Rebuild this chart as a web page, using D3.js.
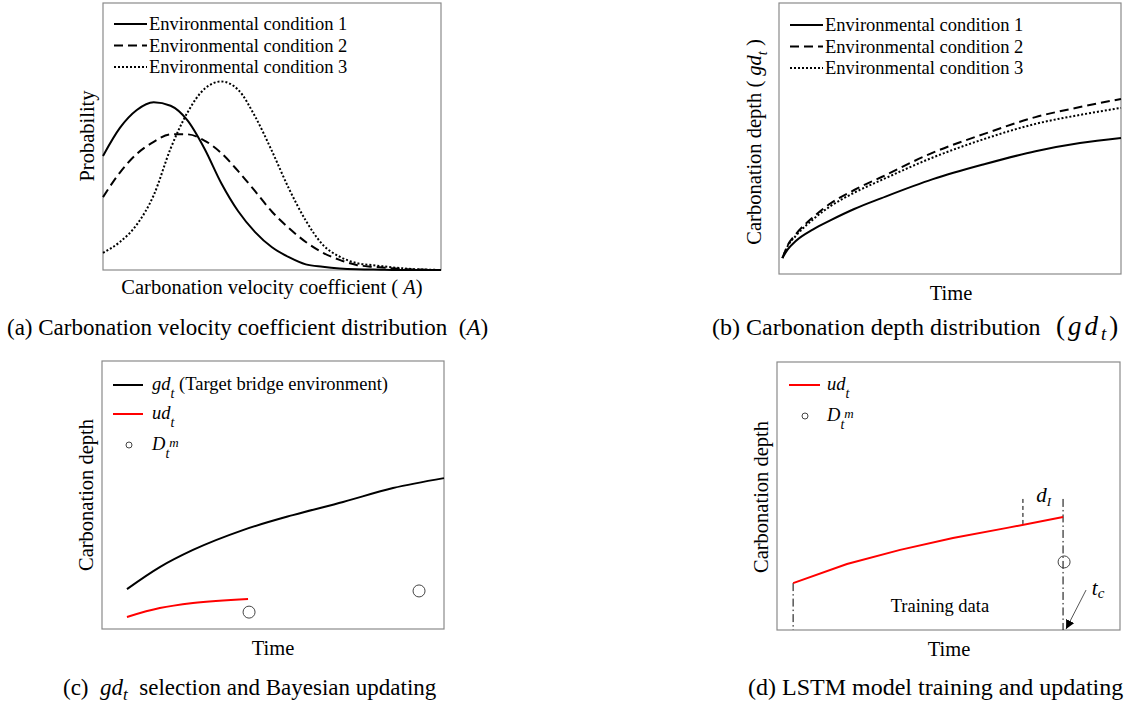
<!DOCTYPE html>
<html>
<head>
<meta charset="utf-8">
<script src="https://cdn.jsdelivr.net/npm/d3@7/dist/d3.min.js"></script>
<style>
  body { margin: 0; background: #fff; }
  svg  { font-family: "Liberation Serif", "Times New Roman", serif; }
  text { white-space: pre; }
</style>
</head>
<body>
<svg id="fig" width="1137" height="704"></svg>
<script>
// ── Data (relative units 0-100 per panel) ──────────────────────────────────────

// (a) distribution of carbonation velocity coefficient
var aGrid  = [0, 5, 10, 15, 20, 25, 30, 35, 40, 45, 50, 55, 60, 65, 70, 75, 80, 90, 100];
var aCond1 = [42.7, 53.2, 59.9, 62.8, 61.5, 56, 45.5, 32.5, 22, 14.2, 8.5, 4.8, 2.1, 1.2, 0.6, 0.3, 0.2, 0, 0];
var aCond2 = [27.3, 36.5, 43.5, 48, 50.8, 50.8, 48.5, 43.8, 37, 29.5, 21.8, 15.7, 10.5, 6.5, 3.8, 1.9, 1.2, 0.3, 0];
var aCond3 = [6.4, 10.5, 17, 28, 45.5, 59, 67.8, 70.6, 67.5, 57.5, 44.5, 30.5, 18.5, 9.5, 5, 2.6, 1.8, 0.5, 0];

// (b) carbonation depth over time
var bTime  = [1, 2.5, 5, 10, 15, 22, 30, 45, 60, 75, 88, 100];
var bCond1 = [5.9, 9, 12.3, 16.5, 19.8, 24, 28, 35, 40.5, 45.3, 48.3, 50.2];
var bCond2 = [5.9, 10.5, 14.8, 21, 26, 31, 35.8, 44.8, 51.7, 57.9, 61.6, 64.6];
var bCond3 = [5.9, 10.2, 14.2, 20.2, 25, 30, 34.7, 43, 49.8, 55.4, 58.7, 61.3];

var condLabels = ['Environmental condition 1', 'Environmental condition 2', 'Environmental condition 3'];

// (c) gd_t selection and Bayesian updating
var cTime    = [7.3, 16.9, 26.6, 41.2, 55.8, 70.5, 85.1, 100];
var cGd      = [14.9, 23.1, 29.5, 36.9, 42.5, 47.4, 52.6, 56.3];
var cUdTime  = [7.3, 16.9, 26.6, 42.7];
var cUd      = [4.5, 7.8, 9.7, 11.2];
var cObsTime = [43, 92.7];
var cObs     = [6.3, 14.2];

// (d) LSTM training
var dTime    = [4.7, 20.4, 35.9, 51.3, 67.1, 83.4];
var dUd      = [17.5, 24.6, 29.9, 34.3, 38.1, 42.2];
var dObsTime = [83.7];
var dObs     = [25.4];
var dLagTime = 71.7;   // start of d_I window
var dMarkTop = 48.9;   // top of the marker lines

// ── Helpers ────────────────────────────────────────────────────────────────────

var svg = d3.select('#fig');

var dashes = ['none', '9 5', '2 2'];

function makePanel(box) {
    var g = svg.append('g');
    var x = d3.scaleLinear().domain([0, 100]).range([box.x0, box.x1]);
    var y = d3.scaleLinear().domain([0, 100]).range([box.y1, box.y0]);
    g.append('rect')
        .attr('x', box.x0).attr('y', box.y0)
        .attr('width', box.x1 - box.x0).attr('height', box.y1 - box.y0)
        .attr('fill', 'none').attr('stroke', '#8a8a8a').attr('stroke-width', 1.2);
    return { g: g, x: x, y: y };
}

// parts: [{t, i (italic), shift (px down from baseline), size}]
function rich(sel, parts) {
    var cur = 0;
    parts.forEach(function (p) {
        var sh = p.shift || 0;
        var ts = sel.append('tspan').attr('dy', sh - cur).text(p.t);
        cur = sh;
        if (p.i) ts.attr('font-style', 'italic');
        if (p.size) ts.attr('font-size', p.size);
    });
    return sel;
}

function addText(g, x, y, parts, size, anchor, rotate) {
    var t = g.append('text')
        .attr('font-size', size)
        .attr('text-anchor', anchor || 'start')
        .attr('fill', '#000');
    if (rotate) {
        t.attr('transform', 'translate(' + x + ',' + y + ') rotate(-90)');
    } else {
        t.attr('x', x).attr('y', y);
    }
    return rich(t, parts);
}

function curvePath(p, xs, ys, curve) {
    var pts = xs.map(function (v, i) { return [v, ys[i]]; });
    return d3.line()
        .x(function (d) { return p.x(d[0]); })
        .y(function (d) { return p.y(d[1]); })
        .curve(curve || d3.curveLinear)(pts);
}

// ── (a) ────────────────────────────────────────────────────────────────────────
var pa = makePanel({ x0: 103, x1: 441, y0: 3, y1: 270 });
[aCond1, aCond2, aCond3].forEach(function (ys, i) {
    pa.g.append('path')
        .attr('d', curvePath(pa, aGrid, ys, d3.curveMonotoneX))
        .attr('fill', 'none').attr('stroke', '#000').attr('stroke-width', 2)
        .attr('stroke-dasharray', dashes[i]);
});
condLabels.forEach(function (lab, i) {
    var by = 30 + i * 21.5;
    pa.g.append('line')
        .attr('x1', 114).attr('x2', 147).attr('y1', by - 6).attr('y2', by - 6)
        .attr('stroke', '#000').attr('stroke-width', 2).attr('stroke-dasharray', dashes[i]);
    addText(pa.g, 149, by, [{ t: lab }], 18.5);
});
addText(pa.g, 272, 294, [{ t: 'Carbonation velocity coefficient ( ' }, { t: 'A', i: true }, { t: ')' }], 20.5, 'middle');
addText(pa.g, 94, 136, [{ t: 'Probability' }], 20.5, 'middle', true);

// ── (b) ────────────────────────────────────────────────────────────────────────
var pb = makePanel({ x0: 779, x1: 1121, y0: 3, y1: 274 });
[bCond1, bCond2, bCond3].forEach(function (ys, i) {
    pb.g.append('path')
        .attr('d', curvePath(pb, bTime, ys, d3.curveMonotoneX))
        .attr('fill', 'none').attr('stroke', '#000').attr('stroke-width', 2)
        .attr('stroke-dasharray', dashes[i]);
});
condLabels.forEach(function (lab, i) {
    var by = 31 + i * 21.5;
    pb.g.append('line')
        .attr('x1', 790).attr('x2', 823).attr('y1', by - 6).attr('y2', by - 6)
        .attr('stroke', '#000').attr('stroke-width', 2).attr('stroke-dasharray', dashes[i]);
    addText(pb.g, 825, by, [{ t: lab }], 18.5);
});
addText(pb.g, 951, 300, [{ t: 'Time' }], 20.5, 'middle');
addText(pb.g, 761, 142, [{ t: 'Carbonation depth ( ' }, { t: 'gd', i: true },
    { t: 't', i: true, shift: 6, size: 14 }, { t: ' )', shift: 0 }], 20.5, 'middle', true);

// ── (c) ────────────────────────────────────────────────────────────────────────
var pc = makePanel({ x0: 102, x1: 444, y0: 361, y1: 629 });
pc.g.append('path')
    .attr('d', curvePath(pc, cTime, cGd, d3.curveMonotoneX))
    .attr('fill', 'none').attr('stroke', '#000').attr('stroke-width', 2);
pc.g.append('path')
    .attr('d', curvePath(pc, cUdTime, cUd, d3.curveMonotoneX))
    .attr('fill', 'none').attr('stroke', '#ff0000').attr('stroke-width', 2);
pc.g.selectAll('circle.obs').data(cObsTime).enter().append('circle')
    .attr('class', 'obs')
    .attr('cx', function (d) { return pc.x(d); })
    .attr('cy', function (d, i) { return pc.y(cObs[i]); })
    .attr('r', 6).attr('fill', 'none').attr('stroke', '#444').attr('stroke-width', 1);

pc.g.append('line').attr('x1', 113).attr('x2', 143).attr('y1', 385).attr('y2', 385)
    .attr('stroke', '#000').attr('stroke-width', 2);
addText(pc.g, 152, 390, [{ t: 'gd', i: true }, { t: 't', i: true, shift: 8, size: 14 },
    { t: ' (Target bridge environment)', shift: 0 }], 18.5);
pc.g.append('line').attr('x1', 113).attr('x2', 143).attr('y1', 414).attr('y2', 414)
    .attr('stroke', '#ff0000').attr('stroke-width', 2);
addText(pc.g, 152, 419, [{ t: 'ud', i: true }, { t: 't', i: true, shift: 8, size: 14 }], 18.5);
pc.g.append('circle').attr('cx', 129).attr('cy', 445).attr('r', 3)
    .attr('fill', 'none').attr('stroke', '#444').attr('stroke-width', 1);
addText(pc.g, 152, 450, [{ t: 'D', i: true }, { t: 't', i: true, shift: 8, size: 14 },
    { t: 'm', i: true, shift: -3, size: 13 }], 18.5);
addText(pc.g, 273, 655, [{ t: 'Time' }], 20.5, 'middle');
addText(pc.g, 93, 495, [{ t: 'Carbonation depth' }], 20.5, 'middle', true);

// ── (d) ────────────────────────────────────────────────────────────────────────
var pd = makePanel({ x0: 777, x1: 1120, y0: 362, y1: 630 });
var dLast = dTime.length - 1;
var dashDot = '8 3 1.5 3';
pd.g.append('line')
    .attr('x1', pd.x(dTime[0])).attr('x2', pd.x(dTime[0]))
    .attr('y1', pd.y(dUd[0])).attr('y2', pd.y(0))
    .attr('stroke', '#000').attr('stroke-width', 1).attr('stroke-dasharray', dashDot);
pd.g.append('line')
    .attr('x1', pd.x(dTime[dLast])).attr('x2', pd.x(dTime[dLast]))
    .attr('y1', pd.y(dMarkTop)).attr('y2', pd.y(0))
    .attr('stroke', '#000').attr('stroke-width', 1).attr('stroke-dasharray', dashDot);
var lagY = d3.scaleLinear().domain(dTime).range(dUd)(dLagTime);
pd.g.append('line')
    .attr('x1', pd.x(dLagTime)).attr('x2', pd.x(dLagTime))
    .attr('y1', pd.y(dMarkTop)).attr('y2', pd.y(lagY))
    .attr('stroke', '#000').attr('stroke-width', 1).attr('stroke-dasharray', '4 3');
pd.g.append('path')
    .attr('d', curvePath(pd, dTime, dUd))
    .attr('fill', 'none').attr('stroke', '#ff0000').attr('stroke-width', 2);
pd.g.selectAll('circle.obs').data(dObsTime).enter().append('circle')
    .attr('class', 'obs')
    .attr('cx', function (d) { return pd.x(d); })
    .attr('cy', function (d, i) { return pd.y(dObs[i]); })
    .attr('r', 6).attr('fill', 'none').attr('stroke', '#444').attr('stroke-width', 1);

addText(pd.g, pd.x(47.5), pd.y(6.7), [{ t: 'Training data' }], 18.5, 'middle');
addText(pd.g, pd.x(75.6), pd.y(47.8), [{ t: 'd', i: true }, { t: 'I', i: true, shift: 4, size: 13 }], 21);
addText(pd.g, pd.x(91.8), pd.y(13), [{ t: 't', i: true }, { t: 'c', i: true, shift: 3, size: 15 }], 21);

svg.append('defs').append('marker')
    .attr('id', 'arrow').attr('viewBox', '0 0 10 10')
    .attr('refX', 10).attr('refY', 5)
    .attr('markerWidth', 9).attr('markerHeight', 9)
    .attr('markerUnits', 'userSpaceOnUse')
    .attr('orient', 'auto')
    .append('path').attr('d', 'M0,0 L10,5 L0,10 z').attr('fill', '#000');
pd.g.append('line')
    .attr('x1', pd.x(90.1)).attr('y1', pd.y(14.9))
    .attr('x2', pd.x(dTime[dLast]) + 3).attr('y2', pd.y(0) - 1)
    .attr('stroke', '#555').attr('stroke-width', 1)
    .attr('marker-end', 'url(#arrow)');

pd.g.append('line').attr('x1', 789).attr('x2', 820).attr('y1', 385).attr('y2', 385)
    .attr('stroke', '#ff0000').attr('stroke-width', 2);
addText(pd.g, 827, 390, [{ t: 'ud', i: true }, { t: 't', i: true, shift: 8, size: 14 }], 18.5);
pd.g.append('circle').attr('cx', 805).attr('cy', 416).attr('r', 3)
    .attr('fill', 'none').attr('stroke', '#444').attr('stroke-width', 1);
addText(pd.g, 827, 421, [{ t: 'D', i: true }, { t: 't', i: true, shift: 8, size: 14 },
    { t: 'm', i: true, shift: -3, size: 13 }], 18.5);
addText(pd.g, 949, 656, [{ t: 'Time' }], 20.5, 'middle');
addText(pd.g, 768, 497, [{ t: 'Carbonation depth' }], 20.5, 'middle', true);

// ── Captions ───────────────────────────────────────────────────────────────────
addText(svg, 7, 335, [{ t: '(a) Carbonation velocity coefficient distribution  (' }, { t: 'A', i: true }, { t: ')' }], 23);
addText(svg, 712, 335, [{ t: '(b) Carbonation depth distribution' }], 24);
addText(svg, 1056, 335, [{ t: '(' }, { t: 'gd', i: true },
    { t: 't', i: true, shift: 5, size: 19 }, { t: ')', shift: 0 }], 27)
    .attr('letter-spacing', 3);
addText(svg, 63, 695, [{ t: '(c)  ' }, { t: 'gd', i: true }, { t: 't', i: true, shift: 5, size: 17 },
    { t: '  selection and Bayesian updating', shift: 0 }], 23);
addText(svg, 748, 695, [{ t: '(d) LSTM model training and updating' }], 24);
</script>
</body>
</html>
